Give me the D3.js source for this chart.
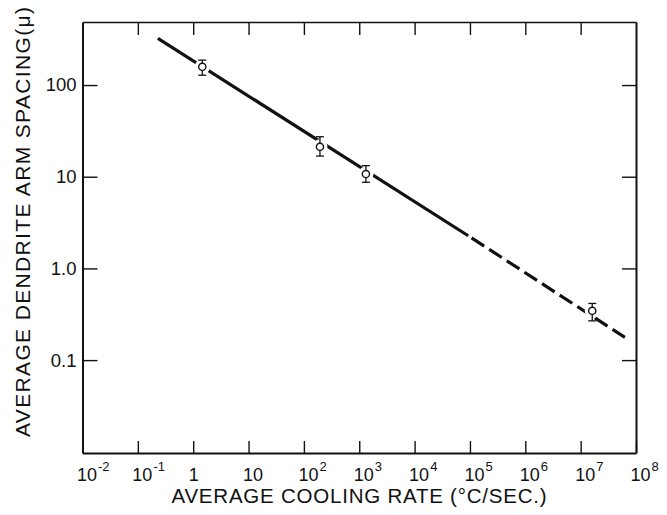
<!DOCTYPE html>
<html>
<head>
<meta charset="utf-8">
<title>Dendrite arm spacing vs cooling rate</title>
<script src="https://cdn.jsdelivr.net/npm/d3@7"></script>
<style>
  body { margin: 0; background: #fff; }
</style>
</head>
<body>
<script>
// measured points (cooling rate in °C/sec, spacing in microns)
var rate    = [1.46, 195, 1320, 1.62e7];
var spacing = [158, 21.2, 10.7, 0.345];
var errLow  = [128, 16.8, 8.7, 0.268];
var errHigh = [187, 27.3, 13.2, 0.415];

// fitted line, solid part and extrapolated (dashed) part
var solidRate    = [0.23, 9.3e4];
var solidSpacing = [323, 2.27];
var dashRate     = [9.3e4, 6.3e7];
var dashSpacing  = [2.27, 0.177];

// tick labels
var xTicks    = [1e-2, 1e-1, 1, 10, 1e2, 1e3, 1e4, 1e5, 1e6, 1e7, 1e8];
var xTickBase = ["10", "10", "1", "10", "10", "10", "10", "10", "10", "10", "10"];
var xTickSup  = ["-2", "-1", "", "", "2", "3", "4", "5", "6", "7", "8"];
var yTicks      = [0.1, 1, 10, 100];
var yTickLabels = ["0.1", "1.0", "10", "100"];

var w = 667, h = 515;
// plot frame (note: "top" is taken by window.top, so use pTop etc.)
var pLeft = 82.5, pRight = 636, pTop = 22, pBottom = 453;
var font = "'Liberation Sans', Arial, sans-serif";

var x = d3.scaleLog().domain([1e-2, 1e8]).range([pLeft, pRight]);
var y = d3.scaleLog().domain([0.0097, 487]).range([pBottom, pTop]);

var svg = d3.select("body").append("svg")
    .attr("width", w)
    .attr("height", h);

svg.append("rect")
    .attr("width", w)
    .attr("height", h)
    .attr("fill", "white");

// frame + inward ticks
var xInner = xTicks.slice(1, -1);
var gBottom = svg.append("g")
    .attr("transform", "translate(0," + pBottom + ")")
    .call(d3.axisBottom(x).tickValues(xTicks).tickSizeInner(-12).tickSizeOuter(0).tickFormat(""));
var gTop = svg.append("g")
    .attr("transform", "translate(0," + pTop + ")")
    .call(d3.axisTop(x).tickValues(xInner).tickSizeInner(-13).tickSizeOuter(0).tickFormat(""));
var gLeft = svg.append("g")
    .attr("transform", "translate(" + pLeft + ",0)")
    .call(d3.axisLeft(y).tickValues(yTicks).tickSizeInner(-15).tickSizeOuter(0).tickPadding(6)
        .tickFormat(function(d, i) { return yTickLabels[i]; }));
var gRight = svg.append("g")
    .attr("transform", "translate(" + pRight + ",0)")
    .call(d3.axisRight(y).tickValues(yTicks).tickSizeInner(-14).tickSizeOuter(0).tickFormat(""));

[gBottom, gTop, gLeft, gRight].forEach(function(g) {
    g.select(".domain").attr("stroke", "#111").attr("stroke-width", 2);
    g.selectAll(".tick line").attr("stroke", "#111").attr("stroke-width", 1.4);
});
gTop.select(".domain").attr("stroke-width", 1.5);

gLeft.selectAll(".tick text")
    .attr("font-family", font)
    .attr("font-size", "18.5px")
    .attr("fill", "#111");

// x tick labels with superscripts
gBottom.selectAll(".tick text").each(function(d, i) {
    var t = d3.select(this)
        .text(xTickBase[i])
        .attr("font-family", font)
        .attr("font-size", "18px")
        .attr("fill", "#111")
        .attr("y", 27.5)
        .attr("dy", 0);
    if (xTickBase[i] == "1") {
        t.attr("text-anchor", "middle").attr("x", 0);
    } else {
        t.attr("text-anchor", "start").attr("x", -6);
    }
    if (xTickSup[i] != "") {
        t.append("tspan")
            .text(xTickSup[i])
            .attr("font-size", "13px")
            .attr("dx", 1)
            .attr("dy", -9.5);
    }
});

// fitted line
var line = d3.line()
    .x(function(d) { return x(d[0]); })
    .y(function(d) { return y(d[1]); });

svg.append("path")
    .datum(d3.zip(solidRate, solidSpacing))
    .attr("d", line)
    .attr("fill", "none")
    .attr("stroke", "#111")
    .attr("stroke-width", 3.2);

svg.append("path")
    .datum(d3.zip(dashRate, dashSpacing))
    .attr("d", line)
    .attr("fill", "none")
    .attr("stroke", "#111")
    .attr("stroke-width", 3.2)
    .attr("stroke-dasharray", "15,6")
    .attr("stroke-dashoffset", 17);

// data points: white gap in the line, error bar, open circle
var pts = svg.selectAll("g.pt")
    .data(d3.range(rate.length))
    .enter()
    .append("g")
    .attr("class", "pt");

pts.append("circle")
    .attr("cx", function(i) { return x(rate[i]); })
    .attr("cy", function(i) { return y(spacing[i]); })
    .attr("r", 7.5)
    .attr("fill", "white");

pts.append("line")
    .attr("x1", function(i) { return x(rate[i]); })
    .attr("x2", function(i) { return x(rate[i]); })
    .attr("y1", function(i) { return y(errLow[i]); })
    .attr("y2", function(i) { return y(errHigh[i]); })
    .attr("stroke", "#111")
    .attr("stroke-width", 1.3);

[errLow, errHigh].forEach(function(arr) {
    pts.append("line")
        .attr("x1", function(i) { return x(rate[i]) - 4; })
        .attr("x2", function(i) { return x(rate[i]) + 4; })
        .attr("y1", function(i) { return y(arr[i]); })
        .attr("y2", function(i) { return y(arr[i]); })
        .attr("stroke", "#111")
        .attr("stroke-width", 1.3);
});

pts.append("circle")
    .attr("cx", function(i) { return x(rate[i]); })
    .attr("cy", function(i) { return y(spacing[i]); })
    .attr("r", 3.6)
    .attr("fill", "white")
    .attr("stroke", "#111")
    .attr("stroke-width", 1.4);

// axis titles
svg.append("text")
    .text("AVERAGE COOLING RATE (°C/SEC.)")
    .attr("x", 359)
    .attr("y", 503)
    .attr("text-anchor", "middle")
    .attr("textLength", 375)
    .attr("lengthAdjust", "spacing")
    .attr("font-family", font)
    .attr("font-size", "20.5px")
    .attr("fill", "#111");

svg.append("text")
    .text("AVERAGE DENDRITE ARM SPACING(μ)")
    .attr("transform", "translate(30,222) rotate(-90)")
    .attr("text-anchor", "middle")
    .attr("textLength", 430)
    .attr("lengthAdjust", "spacing")
    .attr("font-family", font)
    .attr("font-size", "21px")
    .attr("fill", "#111");
</script>
</body>
</html>
